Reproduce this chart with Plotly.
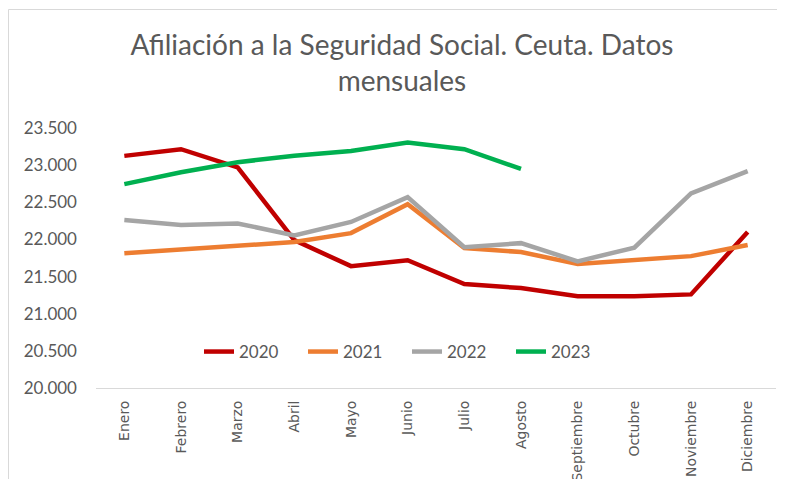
import plotly.graph_objects as go

meses = ["Enero", "Febrero", "Marzo", "Abril", "Mayo", "Junio", "Julio",
         "Agosto", "Septiembre", "Octubre", "Noviembre", "Diciembre"]

y2020 = [23125, 23215, 22970, 21990, 21640, 21720, 21400, 21345, 21235, 21235, 21260, 22100]
y2021 = [21815, 21860, 21905, 21965, 22085, 22475, 21885, 21830, 21670, 21720, 21775, 21925]
y2022 = [22260, 22195, 22215, 22055, 22235, 22570, 21895, 21950, 21705, 21890, 22620, 22920]
y2023 = [22745, 22905, 23040, 23125, 23190, 23305, 23215, 22950]

series = [("2020", y2020, "#C00000"),
          ("2021", y2021, "#ED7D31"),
          ("2022", y2022, "#A5A5A5"),
          ("2023", y2023, "#00B050")]

fig = go.Figure()
for name, vals, col in series:
    fig.add_trace(go.Scatter(x=meses[:len(vals)], y=vals, name=name, mode="lines",
                             line=dict(color=col, width=4.5)))

# page body has an 8px margin; figure drawn from (8, 8)
W, H = 777, 471
L, R, T, B = 88, 9, 120, 91
pw, ph = W - L - R, H - T - B

fig.update_layout(
    width=W, height=H,
    margin=dict(l=L, r=R, t=T, b=B, autoexpand=False),
    paper_bgcolor="white", plot_bgcolor="white",
    separators=",.",
    title=dict(text="Afiliación a la Seguridad Social. Ceuta. Datos<br>mensuales",
               x=0.507, xref="container", xanchor="center",
               y=1 - 47 / H, yref="container", yanchor="top",
               font=dict(family="Lato", size=28, color="#595959")),
    font=dict(family="Lato", color="#595959"),
    showlegend=True,
    legend=dict(orientation="h", x=(191 - L) / pw, xanchor="left",
                y=(380 - 344) / ph, yanchor="middle",
                font=dict(family="Lato", size=17, color="#595959"),
                entrywidth=59, bgcolor="rgba(0,0,0,0)"),
    xaxis=dict(type="category", categoryorder="array", categoryarray=meses,
               range=[-0.5, 11.5], showgrid=False, showline=True, automargin=False,
               linecolor="#D9D9D9", linewidth=1, ticks="", tickangle=-90,
               tickfont=dict(family="DejaVu Sans", size=14, color="#595959"),
               ticklabelstandoff=6, zeroline=False),
    yaxis=dict(range=[20000, 23500], tickmode="linear", tick0=20000, dtick=500,
               tickformat=",.0f", showgrid=False, showline=False, zeroline=False,
               automargin=False,
               tickfont=dict(family="Lato", size=17, color="#595959"),
               ticklabelstandoff=18),
    shapes=[dict(type="rect", xref="paper", yref="paper",
                 x0=(0.5 - L) / pw, x1=(W + 20 - L) / pw,
                 y0=(380 - H - 20) / ph, y1=(380 - 1.5) / ph,
                 line=dict(color="#D9D9D9", width=1), layer="below")],
)

fig.write_html("out.html")
